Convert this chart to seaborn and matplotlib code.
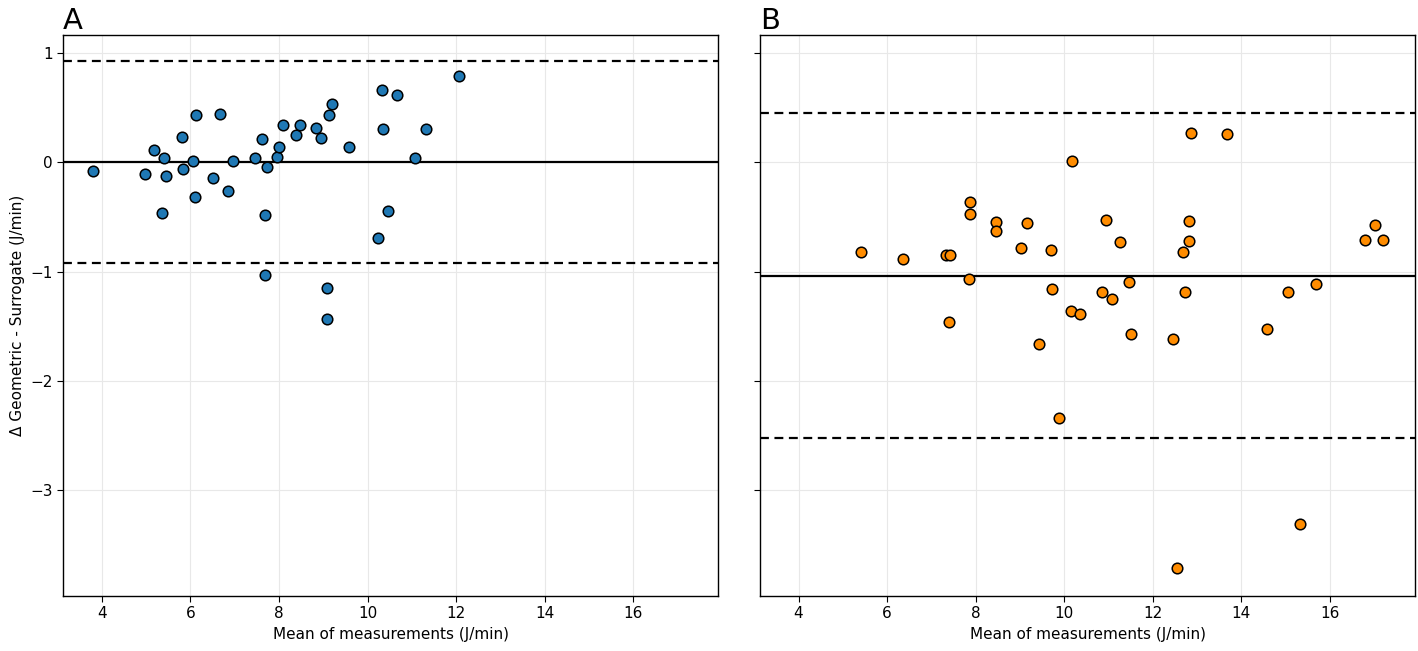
import matplotlib
matplotlib.use('Agg')
import matplotlib.pyplot as plt
import seaborn as sns
import pandas as pd

# panel A: geometric vs surrogate, first condition
mean_a = [3.81, 4.98, 5.17, 5.41, 5.45, 5.35, 5.81, 5.84, 6.05, 6.13,
          6.11, 6.52, 6.67, 6.84, 6.97, 7.45, 7.61, 7.72, 7.69, 7.69,
          7.96, 8.01, 8.09, 8.39, 8.48, 8.84, 8.94, 9.12, 9.19, 9.08,
          9.08, 9.58, 10.33, 10.35, 10.67, 10.47, 10.24, 11.07, 11.32, 12.07]
diff_a = [-0.083, -0.11, 0.113, 0.042, -0.122, -0.461, 0.229, -0.064, 0.009, 0.436,
          -0.315, -0.144, 0.442, -0.263, 0.015, 0.037, 0.216, -0.043, -0.479, -1.031,
          0.048, 0.143, 0.338, 0.253, 0.344, 0.311, 0.225, 0.433, 0.533, -1.153,
          -1.431, 0.140, 0.662, 0.305, 0.613, -0.446, -0.69, 0.039, 0.302, 0.79]

# panel B
mean_b = [5.40, 6.35, 7.34, 7.43, 7.40, 7.88, 7.88, 7.85, 8.46, 8.45,
          9.16, 9.03, 9.69, 9.72, 9.43, 10.17, 10.15, 10.36, 10.95, 11.25,
          10.86, 11.07, 11.47, 11.51, 12.87, 13.68, 12.81, 12.81, 12.69, 12.73,
          12.45, 14.57, 15.06, 15.69, 17.02, 16.78, 17.20, 9.89, 15.32, 12.55]
diff_b = [-0.818, -0.885, -0.845, -0.85, -1.458, -0.366, -0.473, -1.068, -0.549, -0.632,
          -0.555, -0.787, -0.80, -1.159, -1.665, 0.015, -1.357, -1.391, -0.525, -0.729,
          -1.19, -1.251, -1.098, -1.571, 0.265, 0.259, -0.534, -0.72, -0.824, -1.19,
          -1.617, -1.525, -1.184, -1.111, -0.571, -0.711, -0.714, -2.337, -3.307, -3.715]

# bias and limits of agreement (lower, bias, upper)
lines_a = [-0.921, 0.005, 0.927]
lines_b = [-2.525, -1.037, 0.454]

panels = ['A', 'B']
colors = ['#1f78b4', '#ff8c00']

sns.set_style('whitegrid')
plt.rcParams['font.family'] = ['DejaVu Sans']
plt.rcParams['axes.edgecolor'] = 'black'
plt.rcParams['text.color'] = 'black'
plt.rcParams['axes.labelcolor'] = 'black'
plt.rcParams['xtick.color'] = 'black'
plt.rcParams['ytick.color'] = 'black'
plt.rcParams['xtick.bottom'] = True
plt.rcParams['ytick.left'] = True

fig, axes = plt.subplots(1, 2, figsize=(14.18, 6.51), dpi=100, sharex=True, sharey=True)
fig.subplots_adjust(left=0.0446, right=0.9979, top=0.9467, bottom=0.0845, wspace=0.0637)

data = [(mean_a, diff_a, lines_a), (mean_b, diff_b, lines_b)]
for ax, (m, d, ln), name, col in zip(axes, data, panels, colors):
    df = pd.DataFrame({'mean': m, 'diff': d})
    sns.scatterplot(data=df, x='mean', y='diff', ax=ax, color=col,
                    edgecolor='black', linewidth=1.1, s=58, zorder=3)
    ax.axhline(ln[1], color='black', lw=1.6, zorder=2)
    ax.axhline(ln[0], color='black', lw=1.6, ls='--', dashes=(4, 2.5), zorder=2)
    ax.axhline(ln[2], color='black', lw=1.6, ls='--', dashes=(4, 2.5), zorder=2)
    ax.grid(True, color='#e8e8e8', lw=0.8)
    for sp in ax.spines.values():
        sp.set_color('black')
        sp.set_linewidth(1.0)
    ax.set_title(name, loc='left', fontsize=21, pad=4)
    ax.set_xlabel('Mean of measurements (J/min)', fontsize=11)
    ax.set_ylabel('')
    ax.tick_params(labelsize=11, length=4, color='black')

axes[0].set_ylabel('Δ Geometric - Surrogate (J/min)', fontsize=11)
axes[1].tick_params(labelleft=False)
axes[0].set_xlim(3.13, 17.92)
axes[0].set_ylim(-3.968, 1.167)
axes[0].set_xticks([4, 6, 8, 10, 12, 14, 16])
axes[0].set_yticks([-3, -2, -1, 0, 1])

plt.savefig('out.png')
plt.close()
